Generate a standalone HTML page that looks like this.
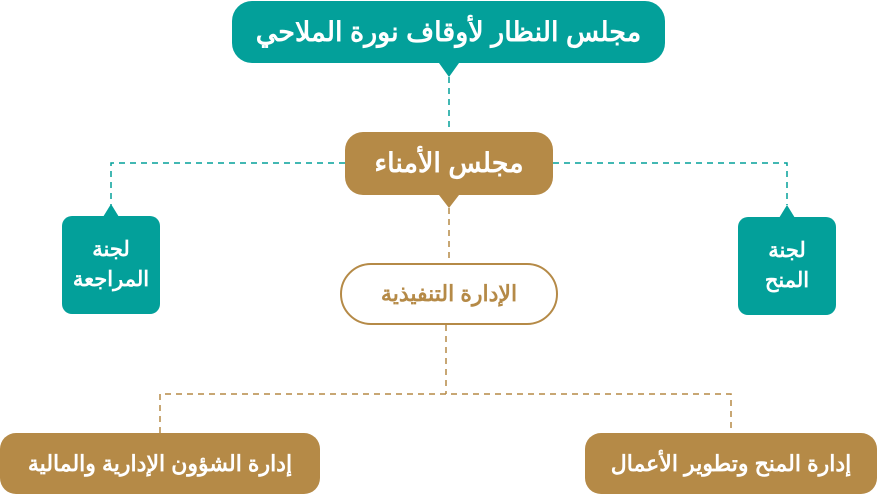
<!DOCTYPE html><html><head><meta charset="utf-8"><style>
body{margin:0;width:878px;height:495px;background:#fff;position:relative;overflow:hidden;font-family:"Liberation Sans","Noto Sans CJK SC",sans-serif;font-weight:bold}
.b{position:absolute;display:flex;align-items:center;justify-content:center;text-align:center;color:#fff;direction:rtl;white-space:nowrap}
.t{background:#03a09a}.g{background:#b58a47}
</style></head><body>
<svg width="878" height="495" style="position:absolute;left:0;top:0">
<g fill="none" stroke-width="1.5" stroke-dasharray="6,5">
<path d="M449 77V132" stroke="#03a09a"/>
<path d="M345 163H111V205M553 163H787V205" stroke="#03a09a"/>
<path d="M449 208V263" stroke="#b58a47"/>
<path d="M446 325V394M160 433V394H731V433" stroke="#b58a47"/>
</g>
<polygon points="439,63 459,63 449,77" fill="#03a09a"/>
<polygon points="439,195 459,195 449,208" fill="#b58a47"/>
<polygon points="103,217 119,217 111,204" fill="#03a09a"/>
<polygon points="779,218 795,218 787,205" fill="#03a09a"/>
</svg>
<div class="b t" style="left:232px;top:1px;width:433px;height:62px;border-radius:20px;font-size:27px">مجلس النظار لأوقاف نورة الملاحي</div>
<div class="b g" style="left:345px;top:132px;width:208px;height:63px;border-radius:18px;font-size:27px">مجلس الأمناء</div>
<div class="b t" style="left:62px;top:216px;width:98px;height:98px;border-radius:10px;font-size:21px;line-height:30px">لجنة<br>المراجعة</div>
<div class="b t" style="left:738px;top:217px;width:98px;height:98px;border-radius:10px;font-size:21px;line-height:30px">لجنة<br>المنح</div>
<div class="b" style="left:340px;top:263px;width:214px;height:58px;border:2px solid #b58a47;border-radius:31px;color:#b58a47;background:#fff;font-size:22px">الإدارة التنفيذية</div>
<div class="b g" style="left:0;top:433px;width:320px;height:61px;border-radius:16px;font-size:22px">إدارة الشؤون الإدارية والمالية</div>
<div class="b g" style="left:585px;top:433px;width:292px;height:61px;border-radius:16px;font-size:22px">إدارة المنح وتطوير الأعمال</div>
</body></html>
